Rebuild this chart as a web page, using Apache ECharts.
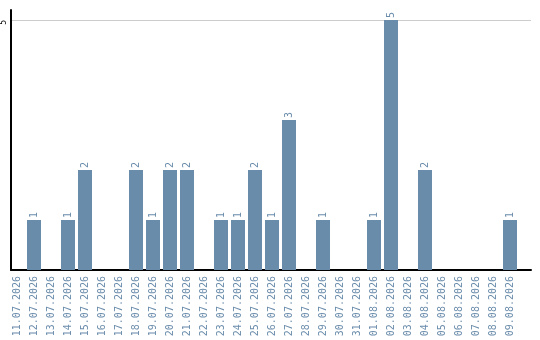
<!DOCTYPE html>
<html>
<head>
<meta charset="utf-8">
<style>
  html, body { margin: 0; padding: 0; background: #fff; }
  #chart { width: 540px; height: 340px; }
</style>
<script src="https://cdn.jsdelivr.net/npm/echarts@6/dist/echarts.min.js"></script>
</head>
<body>
<div id="chart"></div>
<script>
// Daily counts, one entry per day
const dates = [
  '11.07.2026', '12.07.2026', '13.07.2026', '14.07.2026', '15.07.2026',
  '16.07.2026', '17.07.2026', '18.07.2026', '19.07.2026', '20.07.2026',
  '21.07.2026', '22.07.2026', '23.07.2026', '24.07.2026', '25.07.2026',
  '26.07.2026', '27.07.2026', '28.07.2026', '29.07.2026', '30.07.2026',
  '31.07.2026', '01.08.2026', '02.08.2026', '03.08.2026', '04.08.2026',
  '05.08.2026', '06.08.2026', '07.08.2026', '08.08.2026', '09.08.2026'
];
const counts = [
  0, 1, 0, 1, 2,
  0, 0, 2, 1, 2,
  2, 0, 1, 1, 2,
  1, 3, 0, 1, 0,
  0, 1, 5, 0, 2,
  0, 0, 0, 0, 1
];
const yTicks = [5];

const BAR = '#6a8cab';
const MONO = '"DejaVu Sans Mono", monospace';

// Plot geometry: one day per 17px slot, first slot centred 6px right of the y axis
const plotLeft = 11, plotRight = 531, firstCenter = 17, step = 17;
const xMin = (plotLeft - firstCenter) / step;
const xMax = (plotRight - firstCenter) / step;

const chart = echarts.init(document.getElementById('chart'), null, { renderer: 'canvas' });
chart.setOption({
  animation: false,
  grid: { left: plotLeft, right: 540 - plotRight, top: 10, bottom: 70, containLabel: false },
  xAxis: {
    type: 'value',
    min: xMin,
    max: xMax,
    axisLine: { show: true, onZero: false, lineStyle: { color: '#000', width: 2 } },
    axisTick: { show: false },
    splitLine: { show: false },
    axisLabel: {
      customValues: dates.map((d, i) => i),
      formatter: v => dates[Math.round(v)] || '',
      rotate: 90,
      margin: 6,
      color: BAR,
      fontFamily: MONO,
      fontSize: 10
    }
  },
  yAxis: {
    type: 'value',
    min: 0,
    max: 5.2,
    interval: 5,
    axisLine: { show: true, onZero: false, lineStyle: { color: '#000', width: 2 } },
    axisTick: { show: false },
    splitLine: {
      show: true,
      showMinLine: false,
      showMaxLine: false,
      lineStyle: { color: '#cccccc', width: 1 }
    },
    axisLabel: {
      customValues: yTicks,
      rotate: 90,
      align: 'right',
      verticalAlign: 'bottom',
      margin: 3,
      color: '#000',
      fontFamily: MONO,
      fontSize: 8
    }
  },
  series: [{
    type: 'bar',
    barWidth: 14,
    data: counts.map((v, i) => [i, v]),
    itemStyle: { color: BAR },
    label: {
      show: true,
      position: 'top',
      distance: 2,
      rotate: 90,
      align: 'left',
      verticalAlign: 'middle',
      color: BAR,
      fontFamily: MONO,
      fontSize: 10,
      formatter: p => (p.value[1] > 0 ? String(p.value[1]) : '')
    }
  }]
});
</script>
</body>
</html>
